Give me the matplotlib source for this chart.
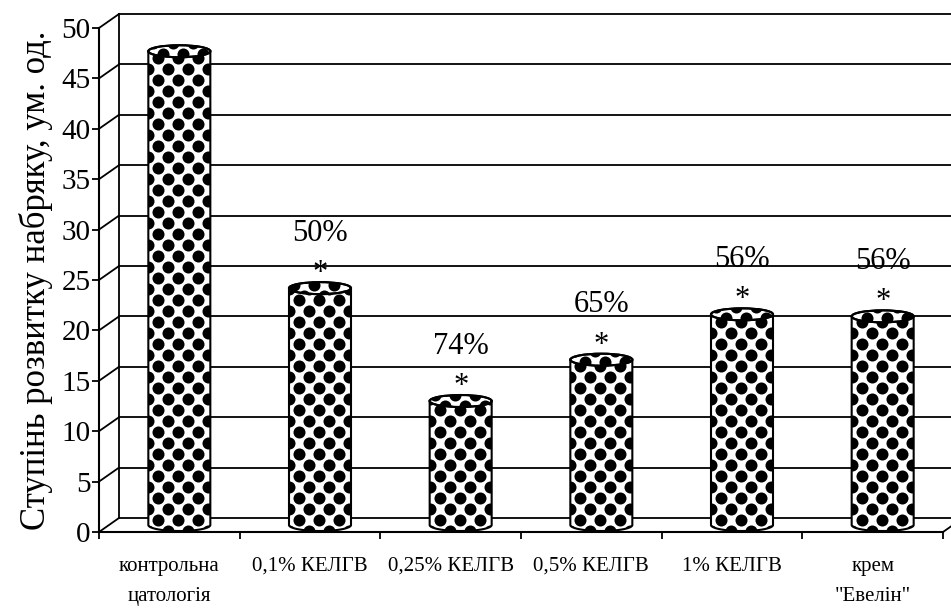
import numpy as np
import matplotlib
matplotlib.use("Agg")
import matplotlib.pyplot as plt
from matplotlib.patches import Ellipse, PathPatch
from matplotlib.path import Path

plt.rcParams['font.family'] = ['Liberation Serif', 'DejaVu Serif']

categories = ['контрольна\nцатологія', '0,1% КЕЛГВ', '0,25% КЕЛГВ',
              '0,5% КЕЛГВ', '1% КЕЛГВ', 'крем\n"Евелін"']
values = [47.0, 23.5, 12.3, 16.4, 20.9, 20.7]
pct_labels = ['', '50%', '74%', '65%', '56%', '56%']
star_labels = ['', '*', '*', '*', '*', '*']
yticks = np.arange(0, 51, 5)

W_PX, H_PX = 951, 608
fig = plt.figure(figsize=(W_PX / 100, H_PX / 100), dpi=100)
ax = fig.add_axes([99 / W_PX, 76 / H_PX, 844 / W_PX, 504 / H_PX])
ax.set_xlim(0, len(categories))
ax.set_ylim(0, 50)

PX = 844 / len(categories)   # pixels per category
PY = 504 / 50                # pixels per unit
DX, DY = 20 / PX, 14 / PY    # depth offset of back wall

# back wall, gridlines and diagonals
lw = 1.3
for t in yticks:
    ax.plot([DX, len(categories) + DX], [t + DY, t + DY], color='black', lw=lw, clip_on=False, zorder=1)
    ax.plot([0, DX], [t, t + DY], color='black', lw=lw, clip_on=False, zorder=1)
ax.plot([DX, DX], [DY, 50 + DY], color='black', lw=lw, clip_on=False, zorder=1)
ax.plot([len(categories), len(categories) + DX], [0, DY], color='black', lw=lw, clip_on=False, zorder=1)

# cylinders with dot pattern
bw = 62 / PX
eb = 6 / PY
sx, sy = 20 / PX, 11 / PY
for i, v in enumerate(values):
    cx = i + 0.5 + DX / 2
    base = DY / 2
    top = v + DY / 2
    x0, x1 = cx - bw / 2, cx + bw / 2
    tt = np.linspace(np.pi, 2 * np.pi, 40)
    verts = [(x0, top), (x0, base)] + [(cx + bw / 2 * np.cos(a), base + eb * np.sin(a)) for a in tt] + [(x1, top), (x0, top)]
    codes = [Path.MOVETO] + [Path.LINETO] * (len(verts) - 2) + [Path.CLOSEPOLY]
    body_path = Path(verts, codes)
    body = PathPatch(body_path, facecolor='white', edgecolor='none', zorder=3)
    ax.add_patch(body)
    # dot texture
    pts = []
    k = 0
    y = base - eb
    while y < top + eb + sy:
        off = (k % 2) * sx / 2
        for j in range(-1, 6):
            pts.append((x0 + off + j * sx, y))
        y += sy
        k += 1
    pts = np.array(pts)
    dots = ax.scatter(pts[:, 0], pts[:, 1], s=75, color='black', linewidths=0, zorder=4)
    dots.set_clip_path(body)
    ax.add_patch(PathPatch(body_path, facecolor='none', edgecolor='black', lw=1.5, zorder=5))
    cap = Ellipse((cx, top), bw, 2 * eb, facecolor='white', edgecolor='black', lw=1.5, zorder=6)
    ax.add_patch(cap)
    cdots = ax.scatter(pts[:, 0] + sx / 4, pts[:, 1] + sy / 3, s=75, color='black', linewidths=0, zorder=7)
    cdots.set_clip_path(cap)
    ax.add_patch(Ellipse((cx, top), bw, 2 * eb, facecolor='none', edgecolor='black', lw=1.5, zorder=8))
    if star_labels[i]:
        ax.annotate(star_labels[i], xy=(cx, top), xytext=(0, 5), textcoords='offset points',
                    ha='center', va='baseline', fontsize=22)
        ax.annotate(pct_labels[i], xy=(cx, top), xytext=(0, 34), textcoords='offset points',
                    ha='center', va='baseline', fontsize=22)

# front axes
for s in ['top', 'right']:
    ax.spines[s].set_visible(False)
ax.spines['left'].set_linewidth(1.5)
ax.spines['bottom'].set_linewidth(1.5)
ax.set_yticks(yticks)
ax.tick_params(axis='y', direction='out', length=5, width=1.3, pad=1, labelsize=21)
ax.set_xticks(np.arange(len(categories) + 1))
ax.set_xticklabels([])
ax.tick_params(axis='x', which='major', direction='out', length=5, width=1.3)
ax.set_xticks(np.arange(len(categories)) + 0.5, minor=True)
ax.set_xticklabels(categories, minor=True)
ax.tick_params(axis='x', which='minor', length=0, pad=18, labelsize=15)
for lab in ax.get_xticklabels(minor=True):
    lab.set_linespacing(1.8)
ax.set_ylabel('Ступінь розвитку набряку, ум. од.', fontsize=25, labelpad=6)

fig.savefig('out.png', dpi=100)
